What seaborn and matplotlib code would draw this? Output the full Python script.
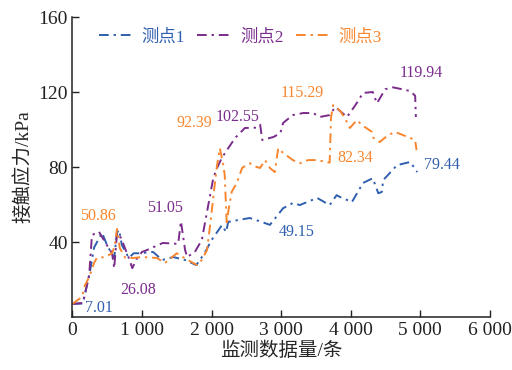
import numpy as np
import pandas as pd
import matplotlib
matplotlib.use('Agg')
import matplotlib.pyplot as plt
import seaborn as sns

# --------------------------
# Data
# --------------------------
x1 = [0, 150, 250, 310, 425, 500, 600, 640, 670, 710, 810, 880, 970, 1160, 1290, 1450,
      1620, 1780, 1900, 2000, 2150, 2210, 2240, 2380, 2550, 2700, 2840, 3030, 3170, 3270,
      3520, 3700, 3800, 3850, 4020, 4180, 4320, 4400, 4450, 4470, 4670, 4860, 4960]
y1 = [7.01, 7.2, 24, 37, 45, 38, 31.5, 45, 46.5, 38.4, 31.5, 34, 34, 34.7, 30.4, 32,
      30.4, 27.7, 34, 41, 49, 45.3, 50.7, 51.7, 52.8, 51, 49.15, 58, 60.8, 59.7,
      63.5, 59.7, 65, 64, 61.3, 71.5, 74, 66, 66.7, 73, 81, 82.7, 77.3]

x2 = [0, 150, 240, 280, 380, 500, 570, 600, 640, 700, 810, 860, 930, 1000, 1070, 1300,
      1520, 1560, 1620, 1650, 1760, 1860, 1935, 1980, 2025, 2080, 2150, 2240, 2340, 2480,
      2650, 2700, 2730, 2890, 2990, 3030, 3170, 3320, 3460, 3560, 3700, 3780, 3950, 4070,
      4180, 4320, 4380, 4500, 4610, 4740, 4860, 4930, 4940]
y2 = [7, 7.5, 22.4, 43.7, 45.5, 38, 34, 26, 44.8, 42, 31.5, 26.08, 31.5, 34.7, 35.7, 39.5,
      39, 51.05, 35.7, 32, 34.7, 41, 56, 65, 74, 79.5, 85, 90, 95.5, 100.8,
      101, 102.55, 94.4, 96, 98, 103.5, 107.7, 108.8, 108.8, 106.7, 107.7, 112, 106.7, 113,
      119.5, 120, 114, 121.5, 122.5, 121.5, 120.5, 118, 106.7]

x3 = [0, 135, 180, 240, 310, 350, 470, 570, 610, 640, 680, 760, 880, 1000, 1215, 1330,
      1500, 1660, 1790, 1860, 1935, 1980, 2025, 2050, 2080, 2120, 2170, 2190, 2220, 2240,
      2290, 2370, 2440, 2550, 2650, 2700, 2770, 2840, 2910, 2960, 3030, 3170, 3270, 3390,
      3520, 3700, 3720, 3750, 3850, 3920, 3990, 4090, 4180, 4310, 4330, 4420, 4540, 4640,
      4860, 4930, 4950]
y3 = [7, 10.7, 17, 21.3, 28.8, 31.5, 32, 34, 38.4, 47, 36.8, 31.5, 31.5, 32, 31.5, 28.8,
      34, 30.4, 27.7, 30.4, 35.7, 49, 63.5, 72, 81, 90, 81, 75.7, 49, 56,
      66.7, 72, 79.5, 82, 80, 79.5, 83.7, 79.5, 77.3, 90, 87.5, 83.7, 82, 83.7,
      83.7, 82.34, 106.7, 113, 110, 106, 100.8, 105, 102, 98.7, 95.5, 93.3, 97, 98.7,
      95.5, 94.4, 89]

series_names = ['测点1', '测点2', '测点3']
colors = {'测点1': '#2f5fae', '测点2': '#7a2c8c', '测点3': '#f7862f'}

# annotation labels: (text, x, y, series)
ann_text = ['7.01', '50.86', '26.08', '51.05', '92.39', '102.55', '115.29', '82.34',
            '119.94', '79.44', '49.15']
ann_x = [180, 108, 683, 1072, 1490, 2065, 3000, 3805, 4700, 5060, 2970]
ann_y = [4.8, 53.9, 14.4, 58, 103.5, 106.7, 119.5, 84.8, 130, 81, 45.3]
ann_series = ['测点1', '测点3', '测点2', '测点2', '测点3', '测点2', '测点3', '测点3',
              '测点2', '测点1', '测点1']

df = pd.concat([
    pd.DataFrame({'x': x1, 'y': y1, 'series': '测点1'}),
    pd.DataFrame({'x': x2, 'y': y2, 'series': '测点2'}),
    pd.DataFrame({'x': x3, 'y': y3, 'series': '测点3'}),
], ignore_index=True)

# --------------------------
# Style
# --------------------------
sns.set_style('ticks')
plt.rcParams['font.family'] = ['Liberation Serif', 'Noto Sans CJK SC']
plt.rcParams['axes.unicode_minus'] = False

fig = plt.figure(figsize=(5.12, 3.70), dpi=100)
ax = fig.add_axes([0.1416, 0.1432, 0.8145, 0.8108])

dash = (5, 2.5, 1.2, 2.5)
sns.lineplot(data=df, x='x', y='y', hue='series', style='series',
             palette=colors, dashes={k: dash for k in series_names},
             sort=False, estimator=None, linewidth=1.4, ax=ax, legend=False)

for t, xx, yy, s in zip(ann_text, ann_x, ann_y, ann_series):
    ax.text(xx, yy, t, color=colors[s], fontsize=11.5, ha='left', va='center')

# Legend
handles = [plt.Line2D([], [], color=colors[s], linewidth=1.4, linestyle=(0, dash))
           for s in series_names]
leg = ax.legend(handles, series_names, loc='upper left', ncol=3, frameon=False,
                fontsize=12.5, handlelength=2.0, columnspacing=0.7, handletextpad=0.45,
                bbox_to_anchor=(0.035, 1.0), borderaxespad=0.3)
for txt, s in zip(leg.get_texts(), series_names):
    txt.set_color(colors[s])

ax.set_xlim(0, 6000)
ax.set_ylim(0, 160)
ax.set_xticks([0, 1000, 2000, 3000, 4000, 5000, 6000])
ax.set_xticklabels(['0', '1 000', '2 000', '3 000', '4 000', '5 000', '6 000'])
ax.set_yticks([40, 80, 120, 160])
ax.tick_params(direction='in', labelsize=14, length=5, width=1, colors='#222222')
for sp in ['left', 'bottom']:
    ax.spines[sp].set_linewidth(1.1)
    ax.spines[sp].set_color('#222222')
sns.despine(ax=ax)

ax.set_xlabel('监测数据量/条', fontsize=14, labelpad=2)
ax.set_ylabel('接触应力/kPa', fontsize=14, labelpad=4)

plt.savefig('out.png', dpi=100, facecolor='white')
